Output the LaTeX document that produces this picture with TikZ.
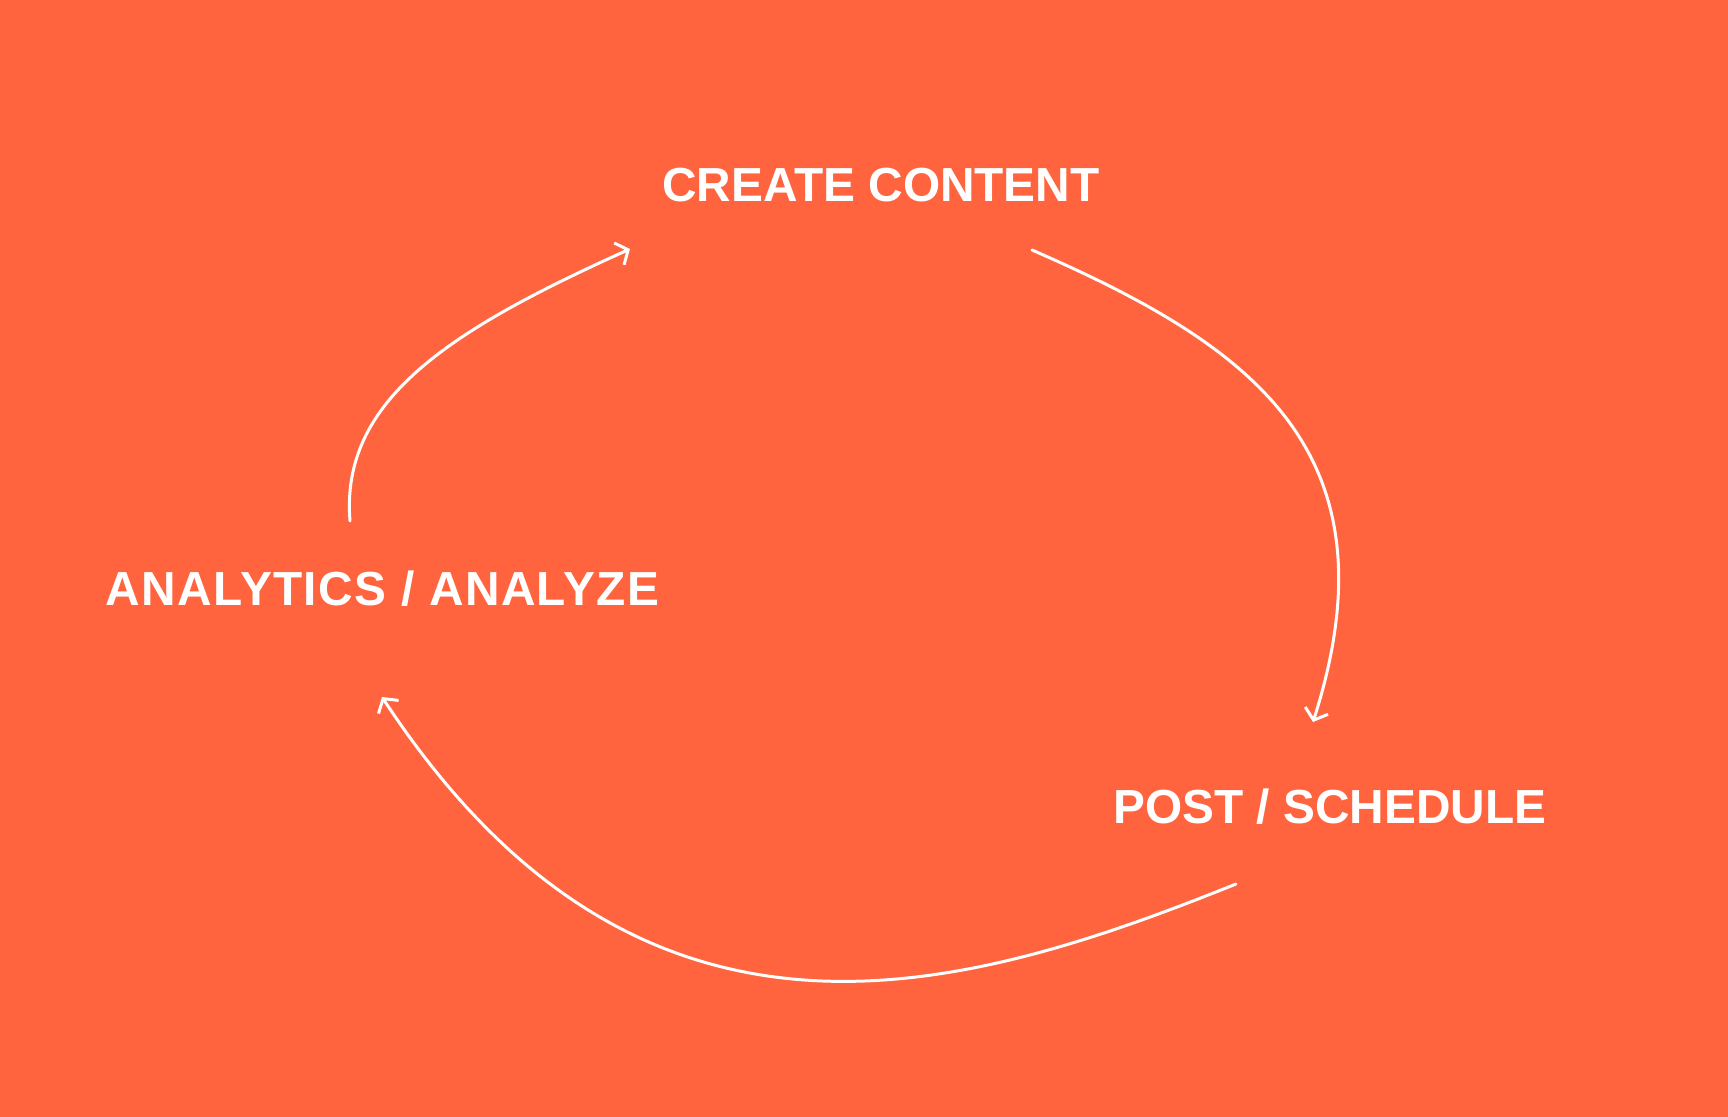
\documentclass[tikz,border=0pt]{standalone}
\usepackage{fontspec}
\setmainfont{Liberation Sans}
\usepackage{tikz}
\usetikzlibrary{positioning, arrows.meta}

\definecolor{bgorange}{HTML}{FF643E}

\tikzset{
	stage/.style		= {text=white, font=\fontsize{13.6}{16}\selectfont\bfseries, inner sep=0pt, anchor=base},
	widestage/.style	= {stage, font=\fontsize{13.6}{16}\selectfont\bfseries\addfontfeature{LetterSpace=3}},
	cycleflow/.style	= {white, line width=0.85pt, line cap=round, -{Straight Barb[length=1mm, width=2.4mm, line width=0.85pt]}}
}

\begin{document}
\begin{tikzpicture}
			\fill	[bgorange]	(0, 0) rectangle (17.28, -11.17);
			\useasboundingbox	(0, 0) rectangle (17.28, -11.17);

			\node	(create)	at	(8.81, -2.01)		[stage]		{CREATE CONTENT};
			\node	(post)		at	(13.30, -8.23)		[stage]		{POST / SCHEDULE};
			\node	(analyze)	at	(3.825, -6.05)		[widestage]	{ANALYTICS / ANALYZE};

			\draw	[cycleflow]	([shift={(-0.325, 0.84)}]analyze.base)	.. controls (3.40, -4.0) and (4.5, -3.3) ..	([shift={(-2.51, -0.48)}]create.base);
			\draw	[cycleflow]	([shift={(1.51, -0.49)}]create.base)		.. controls (12.5, -3.45) and (14.0, -4.5) ..	([shift={(-0.17, 1.01)}]post.base);
			\draw	[cycleflow]	([shift={(-0.94, -0.61)}]post.base)		.. controls (9.6, -9.95) and (6.4, -10.9) ..	([shift={(-0.005, -0.92)}]analyze.base);
		\end{tikzpicture}
\end{document}
